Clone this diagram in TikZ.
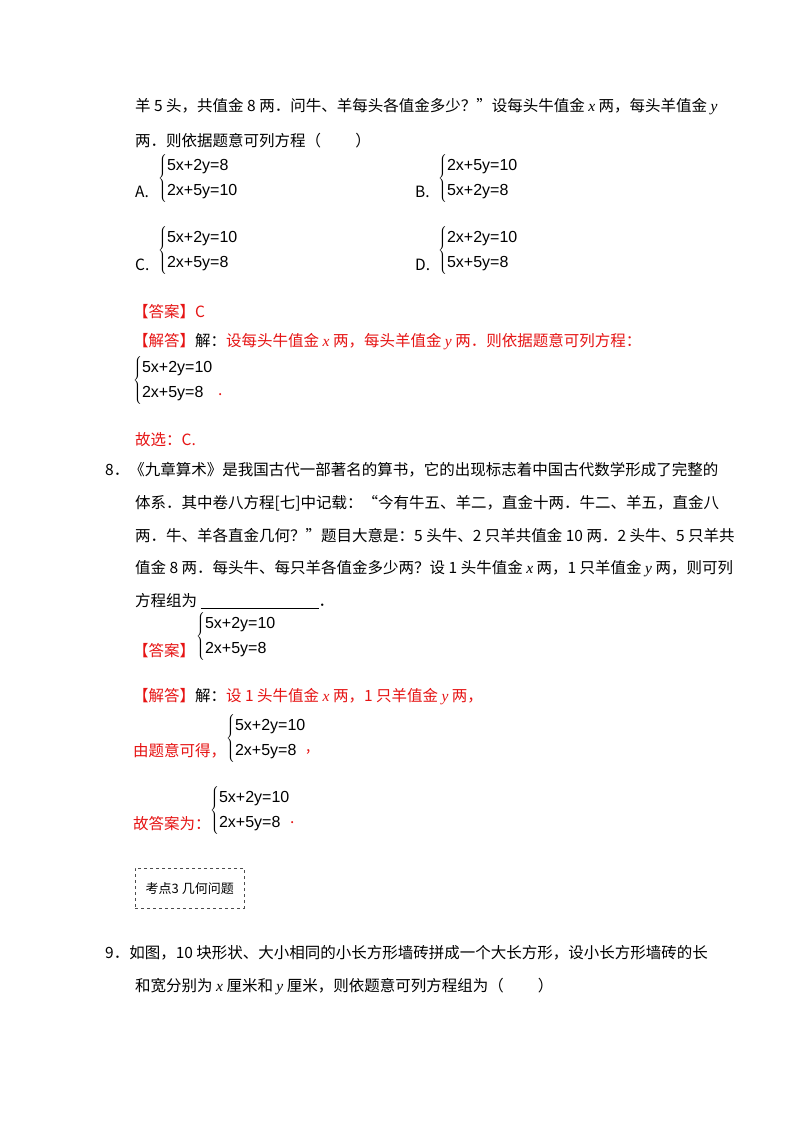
\documentclass[tikz,border=0pt]{standalone}
\usepackage{fontspec}
\setmainfont{Liberation Serif}
\newfontfamily\cjk{Noto Sans CJK SC}
\newfontfamily\eqf{Liberation Sans}
\definecolor{ansred}{RGB}{230,20,20}
\newcommand{\xx}{{\rmfamily\itshape x}}
\newcommand{\yy}{{\rmfamily\itshape y}}
\newcommand{\eqsys}[2]{\fontsize{16}{19}\selectfont$\left\{\renewcommand{\arraystretch}{1.35}\begin{tabular}{@{}l@{}}\eqf\fontsize{16}{19}\selectfont #1\\\eqf\fontsize{16}{19}\selectfont #2\end{tabular}\right.$}
\begin{document}
\begin{tikzpicture}[x=1pt,y=-1pt,
  txt/.style={anchor=west,inner sep=0pt,font=\cjk\fontsize{15.5}{18}\selectfont},
  red/.style={txt,text=ansred},
  eq/.style={anchor=west,inner sep=0pt}]
\useasboundingbox[fill=white] (0,0) rectangle (800,1132);
\node[txt] (l1) at (135,107) {羊 5 头，共值金 8 两．问牛、羊每头各值金多少？”设每头牛值金 \xx\ 两，每头羊值金 \yy};
\node[txt] (l2) at (135,141) {两．则依据题意可列方程（\hspace{2.2em}）};
\node[txt] (A) at (135,192) {A.};
\node[eq] (Ae) at (158,178) {\eqsys{5x+2y=8}{2x+5y=10}};
\node[txt] (B) at (415,192) {B.};
\node[eq] (Be) at (438,178) {\eqsys{2x+5y=10}{5x+2y=8}};
\node[txt] (C) at (135,265) {C.};
\node[eq] (Ce) at (158,250) {\eqsys{5x+2y=10}{2x+5y=8}};
\node[txt] (D) at (415,265) {D.};
\node[eq] (De) at (438,250) {\eqsys{2x+2y=10}{5x+5y=8}};
\node[red] (ans1) at (133,312) {【答案】C};
\node[red] (sol1) at (133,342) {【解答】{\color{black}解：}设每头牛值金 \xx\ 两，每头羊值金 \yy\ 两．则依据题意可列方程：};
\node[eq] (e1) at (133,380) {\eqsys{5x+2y=10}{2x+5y=8}};
\node[red] (dot1) at (218,395) {.};
\node[red] (gx) at (135,440) {故选：\textit{C}.};
\node[txt] (n8) at (105,470) {8．《九章算术》是我国古代一部著名的算书，它的出现标志着中国古代数学形成了完整的};
\node[txt] (l82) at (135,503) {体系．其中卷八方程[七]中记载：“今有牛五、羊二，直金十两．牛二、羊五，直金八};
\node[txt] (l83) at (135,536) {两．牛、羊各直金几何？”题目大意是：5 头牛、2 只羊共值金 10 两．2 头牛、5 只羊共};
\node[txt] (l84) at (135,569) {值金 8 两．每头牛、每只羊各值金多少两？设 1 头牛值金 \xx\ 两，1 只羊值金 \yy\ 两，则可列};
\node[txt] (l85) at (135,601) {方程组为 \underline{\hspace{118pt}}．};
\node[red] (ans2) at (133,651) {【答案】};
\node[eq] (e2) at (196,636) {\eqsys{5x+2y=10}{2x+5y=8}};
\node[red] (sol2) at (133,697) {【解答】{\color{black}解：}设 1 头牛值金 \xx\ 两，1 只羊值金 \yy\ 两，};
\node[red] (by) at (133,751) {由题意可得，};
\node[eq] (e3) at (226,738) {\eqsys{5x+2y=10}{2x+5y=8}};
\node[red] (dot3) at (306,752) {,};
\node[red] (gd) at (133,824) {故答案为：};
\node[eq] (e4) at (210,810) {\eqsys{5x+2y=10}{2x+5y=8}};
\node[red] (dot4) at (290,823) {.};
\node[draw,dashed,black!70,minimum width=109pt,minimum height=40pt,anchor=north west,inner sep=0pt,font=\cjk\fontsize{13}{15}\selectfont,text=black] (kd) at (135,868) {考点3\ 几何问题};
\node[txt] (n9) at (105,953) {9．如图，10 块形状、大小相同的小长方形墙砖拼成一个大长方形，设小长方形墙砖的长};
\node[txt] (l92) at (135,987) {和宽分别为 \xx\ 厘米和 \yy\ 厘米，则依题意可列方程组为（\hspace{2.2em}）};
\end{tikzpicture}
\end{document}
